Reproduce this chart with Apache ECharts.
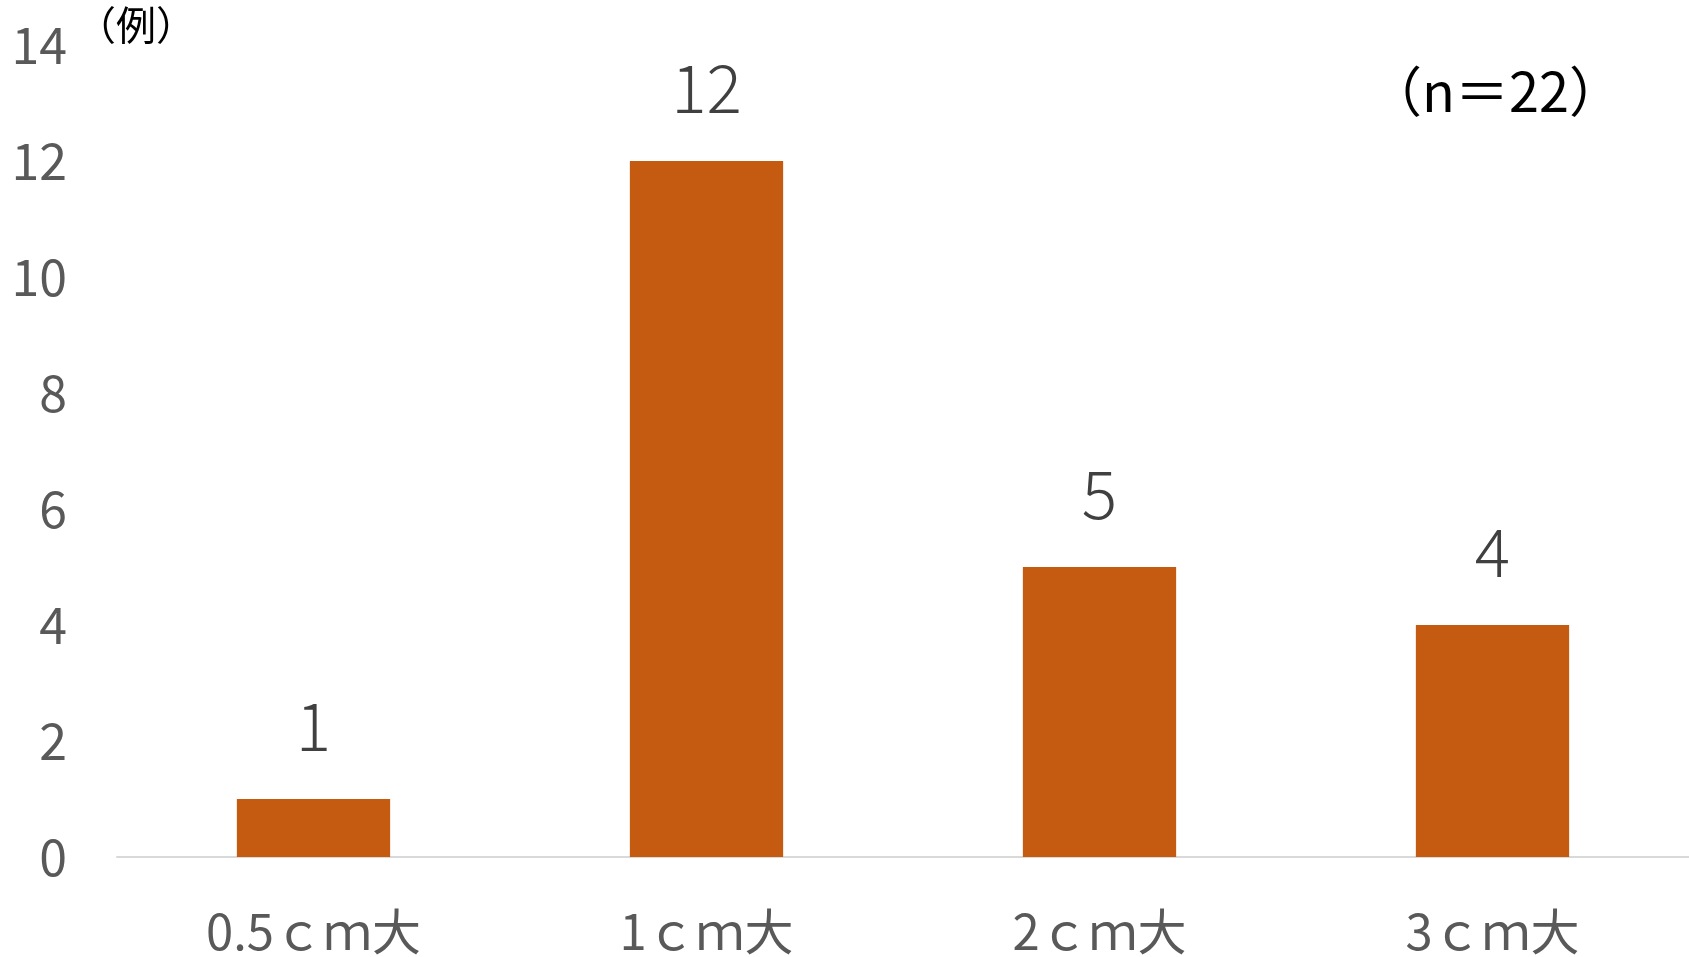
<!DOCTYPE html>
<html><head><meta charset="utf-8">
<script src="https://cdn.jsdelivr.net/npm/echarts@6/dist/echarts.min.js"></script>
<style>html,body{margin:0;padding:0;background:#fff}#c{width:1689px;height:957px}</style>
</head><body><div id="c"></div>
<script>
const categories = ['0.5ｃｍ大', '1ｃｍ大', '2ｃｍ大', '3ｃｍ大'];
const values = [1, 12, 5, 4];
const yTicks = [0, 2, 4, 6, 8, 10, 12, 14];
const unitLabel = '（例）';
const nLabel = '（n＝22）';

const FONT = '"Noto Sans CJK JP", "Noto Sans", sans-serif';
const chart = echarts.init(document.getElementById('c'));
chart.setOption({
  animation: false,
  backgroundColor: '#fff',
  grid: { left: 117, right: 0, top: 45, bottom: 100, containLabel: false },
  graphic: [
    { type: 'text', left: 76, top: 5, style: { text: unitLabel, font: '40px ' + FONT, fill: '#000' } },
    { type: 'text', left: 1368, top: 64, style: { text: nLabel, font: '54px ' + FONT, fill: '#000' } }
  ],
  xAxis: {
    type: 'category', data: categories,
    axisLine: { lineStyle: { color: '#D9D9D9', width: 2 } },
    axisTick: { show: false },
    axisLabel: { color: '#595959', fontSize: 49, fontFamily: FONT, margin: 50 }
  },
  yAxis: {
    type: 'value', min: yTicks[0], max: yTicks[yTicks.length - 1], interval: 2,
    axisLine: { show: false }, axisTick: { show: false }, splitLine: { show: false },
    axisLabel: { color: '#595959', fontSize: 50, fontFamily: FONT, margin: 50 }
  },
  series: [{
    type: 'bar', data: values, barWidth: '39%',
    itemStyle: { color: '#C55A11' },
    label: { show: true, position: 'top', distance: 40, color: '#404040', fontSize: 66, fontFamily: FONT, fontWeight: 300 }
  }]
});
</script></body></html>
